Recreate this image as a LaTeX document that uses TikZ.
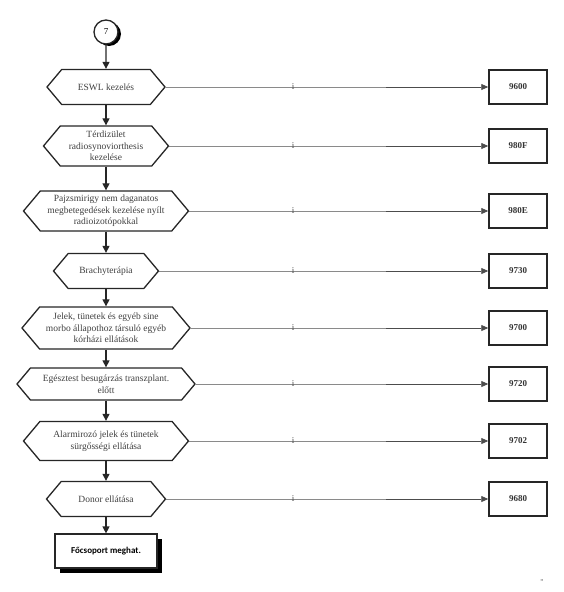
\documentclass[tikz,border=0pt]{standalone}
\usepackage{fontspec}
\setmainfont{Liberation Serif}
\newfontfamily\boxfont{Carlito}
\usetikzlibrary{shapes.symbols, arrows.meta, shadows}

\begin{document}
\begin{tikzpicture}[
      x=1pt, y=-1pt,
      lepes/.style={signal, signal to=east and west, signal pointer angle=100,
        draw=black!85, line width=1.3pt, fill=white, inner sep=0pt,
        align=center, text=black!75, font=\fontsize{9.5}{11.5}\selectfont},
      kodbox/.style={draw=black!85, line width=1.5pt, minimum width=58pt, minimum height=34pt,
        inner sep=0pt, font=\fontsize{9}{10}\selectfont\bfseries, text=black!80},
      nyil/.style={-{Triangle[length=7pt,width=7pt]}, black!85, line width=1.2pt},
      kapcs/.style={-{Triangle[length=7pt,width=6pt]}, black!70, line width=0.8pt},
      jel/.style={font=\fontsize{9}{9}\selectfont, text=black!70, inner sep=0pt}
    ]
    \useasboundingbox (0,0) rectangle (563,592);
    \def\KX{518}  % x-Mitte der Kodboxen
    \def\IX{293}  % x-Lage der i-Marken
    \coordinate (ix) at (\IX,0);

    % ---------- Start ----------
    \node[circle, draw=black!85, line width=1.3pt, fill=white, minimum size=24pt, inner sep=0pt,
      general shadow={fill=black, shadow xshift=3pt, shadow yshift=-2pt},
      font=\fontsize{9}{10}\selectfont] (start) at (106,32) {7};

    % ---------- Lepesek ----------
    \node[lepes, minimum width=118pt, minimum height=35pt] (l1) at (106,87) {ESWL kezelés};
    \node[lepes, minimum width=125pt, minimum height=40pt] (l2) at (106,146)
      {Térdizület\\radiosynoviorthesis\\kezelése};
    \node[lepes, minimum width=165pt, minimum height=40pt] (l3) at (106,211)
      {Pajzsmirigy nem daganatos\\megbetegedések kezelése nyílt\\radioizotópokkal};
    \node[lepes, minimum width=105pt, minimum height=35pt] (l4) at (106,271) {Brachyterápia};
    \node[lepes, minimum width=168pt, minimum height=42pt] (l5) at (106,328)
      {Jelek, tünetek és egyéb sine\\morbo állapothoz társuló egyéb\\kórházi ellátások};
    \node[lepes, minimum width=178pt, minimum height=32pt] (l6) at (106,384)
      {Egésztest besugárzás transzplant.\\előtt};
    \node[lepes, minimum width=165pt, minimum height=39pt] (l7) at (106,441)
      {Alarmirozó jelek és tünetek\\sürgősségi ellátása};
    \node[lepes, minimum width=119pt, minimum height=35pt] (l8) at (106,499) {Donor ellátása};

    % ---------- Ende ----------
    \node[draw=black!85, line width=1.2pt, fill=white, minimum width=102pt, minimum height=34pt,
      general shadow={fill=black, shadow xshift=5pt, shadow yshift=-5pt},
      font=\boxfont\bfseries\fontsize{9}{10}\selectfont] (fo) at (106,551) {Főcsoport meghat.};

    % ---------- Kodboxen und Verbindungen ----------
    \foreach \n/\y/\szam in {1/87/9600, 2/146/980F, 3/211/980E, 4/271/9730,
                             5/328/9700, 6/384/9720, 7/441/9702, 8/499/9680}{
      \node[kodbox] (k\n) at (\KX,\y) {\szam};
      \draw[kapcs] (l\n.east) -- (l\n.east -| ix) node[jel] {i} -- (k\n.west);
    }

    % ---------- Pfeile nach unten ----------
    \draw[nyil] (start) -- (l1);
    \foreach \a/\b in {1/2, 2/3, 3/4, 4/5, 5/6, 6/7, 7/8}{
      \draw[nyil] (l\a.south) -- (l\b.north);
    }
    \draw[nyil] (l8.south) -- (fo.north);

    \node[font=\fontsize{7}{7}\selectfont, text=black!70] (megj) at (542,581) {„};
  \end{tikzpicture}
\end{document}
